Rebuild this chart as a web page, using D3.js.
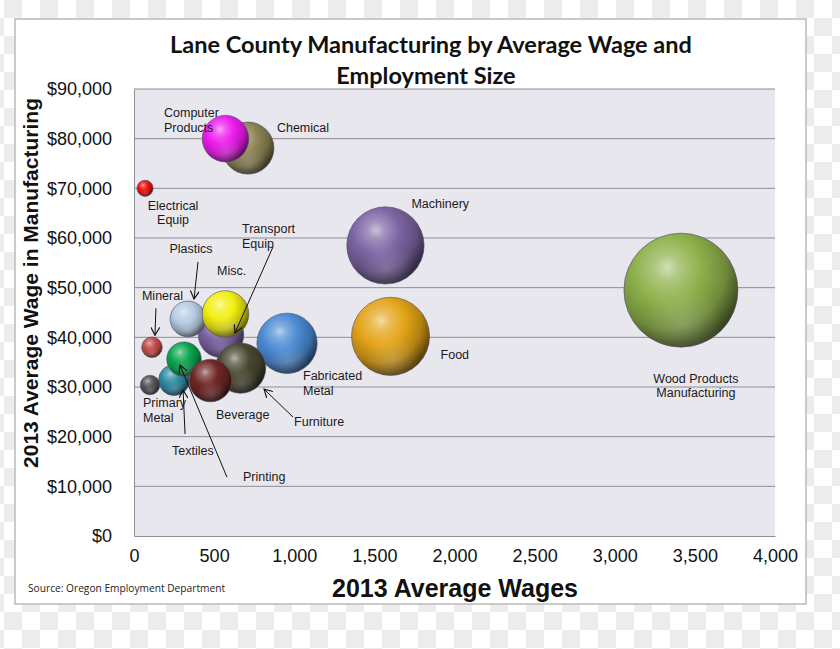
<!DOCTYPE html>
<html>
<head>
<meta charset="utf-8">
<script src="https://cdn.jsdelivr.net/npm/d3@7/dist/d3.min.js"></script>
<style>
  html, body { margin: 0; padding: 0; background: #fff; }
  svg { display: block; }
</style>
</head>
<body>
<svg id="chart" width="840" height="649"></svg>
<script>
// ---------------- DATA ----------------
const categories = ["Wood Products Manufacturing", "Machinery", "Food", "Fabricated Metal",
  "Chemical", "Computer Products", "Electrical Equip", "Transport Equip", "Plastics", "Misc.",
  "Furniture", "Mineral", "Textiles", "Printing", "Primary Metal", "Beverage"];
// x value (also bubble size)
const employment = [3413, 1569, 1601, 955, 711, 571, 69, 543, 337, 571, 665, 112, 250, 312, 100, 477];
// y value
const avgWage = [49500, 58500, 40200, 38800, 78100, 80000, 70000, 40500, 43700, 44700, 33800, 38000, 31400, 35600, 30400, 31300];
const xTicks = [0, 500, 1000, 1500, 2000, 2500, 3000, 3500, 4000];
const yTicks = [0, 10000, 20000, 30000, 40000, 50000, 60000, 70000, 80000, 90000];

// ---------------- STYLE / LAYOUT ----------------
const bubbleColors = ["#8db04a", "#7d64a3", "#e3a417", "#4a8bd3", "#8f8555", "#ee1cee", "#ee1111",
  "#7a62a2", "#b6cbe3", "#f3ee10", "#4a4730", "#c44a47", "#2f8aa2", "#0aa64e", "#555555", "#6e2624"];
const labelLines = [["Wood Products", "Manufacturing"], ["Machinery"], ["Food"], ["Fabricated", "Metal"],
  ["Chemical"], ["Computer", "Products"], ["Electrical", "Equip"], ["Transport", "Equip"], ["Plastics"], ["Misc."],
  ["Furniture"], ["Mineral"], ["Textiles"], ["Printing"], ["Primary", "Metal"], ["Beverage"]];
const labelOffset = [[15, 88, "middle"], [26, -42, "start"], [50, 18.5, "start"], [16, 32.5, "start"],
  [29, -20, "start"], [-61.5, -26, "start"], [28, 17, "middle"], [21, -106, "start"], [3, -70, "middle"], [-8.5, -43, "start"],
  [53.5, 53, "start"], [-10, -52, "start"], [-2, 71, "start"], [59, 117, "start"], [-7, 18, "start"], [5.5, 34.5, "start"]];
const arrowDefs = [null, null, null, null, null, null, null, [52, -88, 14, -2], [10, -57, 6, -20], null,
  [52.5, 49, 23.5, 21], [4, -39, 3, -12], [11, 54, 9, 10], [43, 118, -4, 6], null, null];

const W = 840, H = 649;
const plot = { left: 134, top: 89, right: 775, bottom: 536 };

const svg = d3.select("#chart");
const defs = svg.append("defs");

// checkerboard background
const pat = defs.append("pattern").attr("id", "checker").attr("patternUnits", "userSpaceOnUse")
  .attr("width", 36).attr("height", 36).attr("x", 4).attr("y", 0);
pat.append("rect").attr("width", 36).attr("height", 36).attr("fill", "#ffffff");
pat.append("rect").attr("width", 18).attr("height", 18).attr("fill", "#ececec");
pat.append("rect").attr("x", 18).attr("y", 18).attr("width", 18).attr("height", 18).attr("fill", "#ececec");
svg.append("rect").attr("width", W).attr("height", H).attr("fill", "url(#checker)");

// page
svg.append("rect").attr("x", 15).attr("y", 19).attr("width", 791).attr("height", 585)
  .attr("fill", "#ffffff").attr("stroke", "#bdbdbd").attr("stroke-width", 1.6);

// plot area
svg.append("rect").attr("x", plot.left).attr("y", plot.top)
  .attr("width", plot.right - plot.left).attr("height", plot.bottom - plot.top)
  .attr("fill", "#e9e7ee");

const x = d3.scaleLinear().domain([0, 4000]).range([plot.left, plot.right]);
const y = d3.scaleLinear().domain([0, 90000]).range([plot.bottom, plot.top]);
const r = d3.scaleSqrt().domain([0, 3413]).range([0, 57]);

// gridlines
svg.append("g").selectAll("line").data(yTicks.filter(d => d > 0)).join("line")
  .attr("x1", plot.left).attr("x2", plot.right)
  .attr("y1", d => y(d)).attr("y2", d => y(d))
  .attr("stroke", "#8e8e96").attr("stroke-width", 1);

// axes
const yAxis = svg.append("g").attr("transform", `translate(${plot.left},0)`)
  .call(d3.axisLeft(y).tickValues(yTicks).tickSize(0).tickPadding(22)
    .tickFormat(d => "$" + d3.format(",")(d)));
yAxis.select(".domain").attr("stroke", "#8e8e96");
yAxis.selectAll("text").attr("font-family", "'Liberation Sans', Arial, sans-serif")
  .attr("font-size", 18).attr("fill", "#111");

const xAxis = svg.append("g").attr("transform", `translate(0,${plot.bottom})`)
  .call(d3.axisBottom(x).tickValues(xTicks).tickSize(0).tickPadding(13)
    .tickFormat(d3.format(",")));
xAxis.select(".domain").attr("stroke", "#8e8e96");
xAxis.selectAll("text").attr("font-family", "'Liberation Sans', Arial, sans-serif")
  .attr("font-size", 18).attr("fill", "#111");

// gradients
function mix(c, target, t) {
  const a = d3.rgb(c), b = d3.rgb(target);
  return d3.rgb(a.r + (b.r - a.r) * t, a.g + (b.g - a.g) * t, a.b + (b.b - a.b) * t).formatHex();
}
bubbleColors.forEach((c, i) => {
  const g = defs.append("radialGradient").attr("id", "g" + i)
    .attr("cx", "38%").attr("cy", "32%").attr("r", "72%")
    .attr("fx", "38%").attr("fy", "30%");
  g.append("stop").attr("offset", "0%").attr("stop-color", mix(c, "#ffffff", 0.6));
  g.append("stop").attr("offset", "15%").attr("stop-color", mix(c, "#ffffff", 0.3));
  g.append("stop").attr("offset", "42%").attr("stop-color", c);
  g.append("stop").attr("offset", "72%").attr("stop-color", mix(c, "#000000", 0.22));
  g.append("stop").attr("offset", "92%").attr("stop-color", mix(c, "#000000", 0.55));
  g.append("stop").attr("offset", "100%").attr("stop-color", mix(c, "#000000", 0.65));
});
// subtle bottom reflection
const refl = defs.append("radialGradient").attr("id", "refl")
  .attr("cx", "52%").attr("cy", "80%").attr("r", "35%");
refl.append("stop").attr("offset", "0%").attr("stop-color", "#ffffff").attr("stop-opacity", 0.18);
refl.append("stop").attr("offset", "100%").attr("stop-color", "#ffffff").attr("stop-opacity", 0);

const data = categories.map((name, i) => ({ name, i, x: employment[i], y: avgWage[i] }));

const bub = svg.append("g").selectAll("g").data(data).join("g");
bub.append("circle")
  .attr("cx", d => x(d.x)).attr("cy", d => y(d.y)).attr("r", d => r(d.x))
  .attr("fill", d => `url(#g${d.i})`)
  .attr("stroke", "#55506e").attr("stroke-width", 0.8).attr("stroke-opacity", 0.8);
bub.append("circle")
  .attr("cx", d => x(d.x)).attr("cy", d => y(d.y)).attr("r", d => r(d.x) - 0.5)
  .attr("fill", "url(#refl)");

// arrow marker
defs.append("marker").attr("id", "arr").attr("viewBox", "0 0 10 10").attr("refX", 9).attr("refY", 5)
  .attr("markerWidth", 9).attr("markerHeight", 9).attr("orient", "auto-start-reverse")
  .attr("markerUnits", "userSpaceOnUse")
  .append("path").attr("d", "M0,0 L9,5 L0,10").attr("fill", "none").attr("stroke", "#111").attr("stroke-width", 1.3);

const ann = svg.append("g");
data.forEach(d => {
  const a = arrowDefs[d.i];
  if (!a) return;
  const cx = x(d.x), cy = y(d.y);
  ann.append("line").attr("x1", cx + a[0]).attr("y1", cy + a[1]).attr("x2", cx + a[2]).attr("y2", cy + a[3])
    .attr("stroke", "#111").attr("stroke-width", 1).attr("marker-end", "url(#arr)");
});
data.forEach(d => {
  const o = labelOffset[d.i];
  const cx = x(d.x), cy = y(d.y);
  const t = ann.append("text").attr("font-family", "'Liberation Sans', Arial, sans-serif")
    .attr("font-size", 12.5).attr("fill", "#1a1a1a").attr("text-anchor", o[2]);
  labelLines[d.i].forEach((line, k) => {
    t.append("tspan").attr("x", cx + o[0]).attr("y", cy + o[1] + k * 14.5).attr("dy", "0.35em").text(line);
  });
});

// titles
const title = svg.append("text").attr("font-family", "Lato, 'Open Sans', sans-serif")
  .attr("font-weight", "bold").attr("font-size", 23.5).attr("fill", "#111").attr("text-anchor", "middle");
title.append("tspan").attr("x", 431).attr("y", 53).text("Lane County Manufacturing by Average Wage and");
title.append("tspan").attr("x", 426).attr("y", 84).text("Employment Size");

svg.append("text").attr("x", 455).attr("y", 597).attr("text-anchor", "middle")
  .attr("font-family", "'Liberation Sans', Arial, sans-serif").attr("font-weight", "bold")
  .attr("font-size", 25).attr("fill", "#111").text("2013 Average Wages");

svg.append("text").attr("transform", "translate(38,283) rotate(-90)").attr("text-anchor", "middle")
  .attr("font-family", "'Liberation Sans', Arial, sans-serif").attr("font-weight", "bold")
  .attr("font-size", 21).attr("fill", "#111").text("2013 Average Wage in Manufacturing");

svg.append("text").attr("x", 28).attr("y", 592)
  .attr("font-family", "'Open Sans', sans-serif").attr("font-size", 10.2).attr("fill", "#222")
  .text("Source: Oregon Employment Department");
</script>
</body>
</html>
